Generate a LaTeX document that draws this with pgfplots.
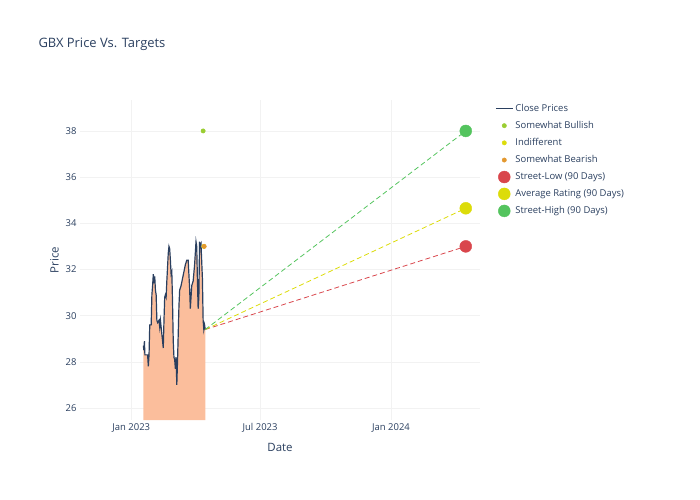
\documentclass[border=0pt]{standalone}
\usepackage{pgfplots}
\pgfplotsset{compat=1.18}
\usepackage{fontspec}
\setmainfont{Open Sans}
\definecolor{navy}{HTML}{2A3F5F}
\definecolor{fillc}{HTML}{FBBE9C}
\definecolor{grn}{HTML}{54C45E}
\definecolor{yel}{HTML}{DCDC0A}
\definecolor{rd}{HTML}{D9464C}
\definecolor{ybull}{HTML}{9ACD32}
\definecolor{bear}{HTML}{E3982F}
\pgfplotstableread{
d p
17 28.7
17.8 28.5
18.5 28.9
19.2 28.3
21 28.3
23 28.3
24 27.8
25 28.3
26 29.6
28 29.6
29 30.9
30 31.3
31 31.8
32 31.4
33 31.7
34 31.1
35 30.9
36 29.8
37 29.7
39 29.8
40 29.5
41 29.8
43 29.2
44 28.9
45 28.6
46 29.8
47 30.8
48 30.9
49 30.8
50 31.5
52 32.7
53 33.0
54 32.9
55 32.4
56 31.8
57 31.9
58 30.6
59 28.9
60 28.2
61 28.1
62 27.7
63 28.2
64 27.0
65 28.0
66 29.2
67 30.4
68 31.1
70 31.3
72 31.6
74 31.9
76 32.2
78 32.4
80 32.4
82 31.2
83 30.3
85 31.3
87 31.5
89 32.2
91 33.2
92 33.0
93 31.5
94 30.3
95 30.8
96 33.2
97 33.0
98 33.1
100 31.6
101 29.8
102 29.4
103 29.6
104 29.4
}\price
\begin{document}
\begin{tikzpicture}
\useasboundingbox (-80bp,-80bp) rectangle (620bp,420bp);
\node[anchor=west,text=navy,font=\fontsize{13}{15}\selectfont] at (-45bp,376bp) {GBX Price Vs. Targets};
\begin{axis}[at={(0,0)},anchor=south west,scale only axis,width=400bp,height=320bp,
 xmin=-72,xmax=490,ymin=25.48,ymax=39.34,
 xtick={0,181,365},xticklabels={Jan 2023,Jul 2023,Jan 2024},
 ytick={26,28,...,38},
 grid=major,grid style={color=gray!10},axis line style={draw=none},
 tick style={draw=none},
 ticklabel style={font=\fontsize{9.5}{11}\selectfont,text=navy},
 /pgf/number format/assume math mode=true,
 xlabel={Date},ylabel={Price},
 label style={font=\fontsize{11.5}{13}\selectfont,text=navy},
 xlabel style={yshift=-4pt},
 legend style={at={(1.03,1)},anchor=north west,draw=none,fill=none,
   font=\fontsize{9.5}{12}\selectfont,text=navy,row sep=4.5pt},
 legend cell align=left,
 clip=false]
\addplot[fill=fillc,draw=none,forget plot] table[x=d,y=p]{\price} -- (axis cs:104,25.48) -- (axis cs:17,25.48) -- cycle;
\addplot[navy,line width=1.2pt,mark=none] table[x=d,y=p]{\price};
\addlegendentry{Close Prices}
\addplot[only marks,mark=*,mark size=2.2pt,color=ybull] coordinates {(101,38)};
\addlegendentry{Somewhat Bullish}
\addplot[only marks,mark=*,mark size=2.2pt,color=yel] coordinates {(102,33)};
\addlegendentry{Indifferent}
\addplot[only marks,mark=*,mark size=2.2pt,color=bear] coordinates {(102.5,33)};
\addlegendentry{Somewhat Bearish}
\addplot[rd,dash pattern=on 5pt off 3pt,thick,forget plot] coordinates {(104,29.4)(470,33)};
\addplot[yel,dash pattern=on 5pt off 3pt,thick,forget plot] coordinates {(104,29.4)(470,34.65)};
\addplot[grn,dash pattern=on 5pt off 3pt,thick,forget plot] coordinates {(104,29.4)(470,38)};
\addplot[only marks,mark=*,mark size=6pt,color=rd] coordinates {(470,33)};
\addlegendentry{Street-Low (90 Days)}
\addplot[only marks,mark=*,mark size=6pt,color=yel] coordinates {(470,34.65)};
\addlegendentry{Average Rating (90 Days)}
\addplot[only marks,mark=*,mark size=6pt,color=grn] coordinates {(470,38)};
\addlegendentry{Street-High (90 Days)}
\end{axis}
\end{tikzpicture}
\end{document}
